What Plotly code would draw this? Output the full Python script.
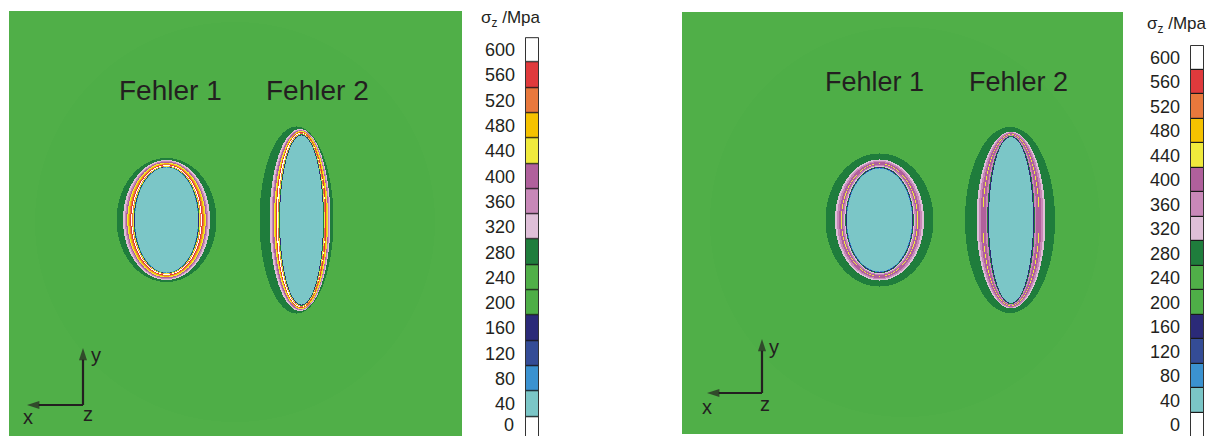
import numpy as np
import plotly.graph_objects as go

# ---------------- data ----------------
levels = [0, 40, 80, 120, 160, 200, 240, 280, 320, 360, 400, 440, 480, 520, 560, 600]
level_colors = ["#FFFFFF", "#7BC6C7", "#3B92D0", "#344C96", "#2B2A78", "#4EAE47", "#50AF48",
                "#1F7D3C", "#DFBFD8", "#C888B8", "#B0609C", "#F0EA3C", "#F5C200", "#E8783C",
                "#E03A3C", "#FFFFFF"]
tick_labels = [str(v) for v in levels]

# Panel 1 (left) : defect rings, outer -> inner (pixel units of the picture)
f1L_cx = 166.5; f1L_cy = 220
f1L_levels = [280, 320, 360, 400, 440, 480, 520, 560, 600, 520, 440, 280, 160, 80, 40]
f1L_a = [50, 43.5, 41.5, 40.3, 39.2, 38.2, 37.2, 36.2, 35.2, 34.3, 33.6, 32.9, 32.3, 31.9, 31.5]
f1L_b = [62, 60, 59, 58.2, 57.4, 56.6, 56, 55.4, 54.8, 54.2, 53.7, 53.3, 53, 52.8, 52.5]

f2L_cx = [296.5, 300, 300.5, 300.5, 301, 301, 301, 301, 301.5, 301.5, 301.5, 301.5, 301.5]
f2L_cy = 220
f2L_levels = [280, 320, 360, 400, 440, 480, 560, 600, 520, 440, 280, 160, 40]
f2L_a = [37, 30.5, 29, 28, 27, 26, 25.2, 24.4, 23.7, 23.1, 22.5, 22, 21.5]
f2L_b = [93.5, 91, 90.2, 89.6, 89, 88.4, 87.8, 87.3, 86.7, 86.1, 85.6, 85, 84.5]

# Panel 2 (right)
f1R_cx = 879.5; f1R_cy = 220
f1R_levels = [280, 320, 360, 400, 440, 400, 360, 320, 280, 160, 80, 40]
f1R_a = [54, 44.5, 42.5, 40.5, 38.5, 37.8, 36.5, 35.2, 34.2, 33.6, 33, 32.5]
f1R_b = [66.5, 60.5, 59.2, 58, 56.5, 56, 55, 54, 53.2, 52.6, 52, 51.5]

f2R_cx = [1010, 1011, 1011, 1011, 1011, 1011, 1011, 1011, 1011, 1011]
f2R_cy = 220
f2R_levels = [280, 320, 360, 400, 440, 400, 360, 280, 160, 40]
f2R_a = [45, 34.5, 32.5, 30.5, 28.5, 27.8, 25.5, 23.8, 23, 22]
f2R_b = [93, 88.5, 87.6, 86.8, 86, 85.6, 84.8, 84, 83.5, 83]

background_level = 240
halo_level = 200

FONT = "Liberation Sans, Arial, Helvetica, sans-serif"
TXT = "#231F20"

# ------------- build fields -------------
def field(x0, x1, y0, y1, defects, halo_center, halo_r):
    xs = np.arange(x0 + 0.5, x1, 1.0)
    ys = np.arange(y0 + 0.5, y1, 1.0)
    X, Y = np.meshgrid(xs, ys)
    z = np.full(X.shape, background_level, dtype=np.int16)
    hx, hy = halo_center
    z[(X - hx) ** 2 + (Y - hy) ** 2 <= halo_r ** 2] = halo_level
    for cxs, cy, lv, aa, bb in defects:
        if np.isscalar(cxs):
            cxs = [cxs] * len(lv)
        for cx, l, a, b in zip(cxs, lv, aa, bb):
            m = ((X - cx) / a) ** 2 + ((Y - cy) / b) ** 2 <= 1.0
            z[m] = l
    return xs, ys, z

colorscale = []
n = len(levels)
for i, c in enumerate(level_colors):
    colorscale.append([i / n, c])
    colorscale.append([(i + 1) / n, c])

W, H = 1218, 436

panels = [
    dict(x0=9, x1=462, y0=11, y1=436,
         defects=[(f1L_cx, f1L_cy, f1L_levels, f1L_a, f1L_b),
                  (f2L_cx, f2L_cy, f2L_levels, f2L_a, f2L_b)],
         halo=((235, 222), 200)),
    dict(x0=682, x1=1123, y0=12, y1=434,
         defects=[(f1R_cx, f1R_cy, f1R_levels, f1R_a, f1R_b),
                  (f2R_cx, f2R_cy, f2R_levels, f2R_a, f2R_b)],
         halo=((905, 222), 195)),
]

fig = go.Figure()
layout = dict(width=W, height=H, margin=dict(l=0, r=0, t=0, b=0),
              paper_bgcolor="white", plot_bgcolor="white", showlegend=False)

shapes = []
annotations = []

for i, p in enumerate(panels):
    xs, ys, z = field(p["x0"], p["x1"], p["y0"], p["y1"], p["defects"], *p["halo"])
    xa = "x" if i == 0 else "x2"
    ya = "y" if i == 0 else "y2"
    fig.add_trace(go.Heatmap(z=z.tolist(), x0=float(xs[0]), dx=1.0, y0=float(ys[0]), dy=1.0,
                             zmin=-20, zmax=620, colorscale=colorscale, showscale=False,
                             hoverinfo="skip", xaxis=xa, yaxis=ya))
    key = "" if i == 0 else "2"
    layout["xaxis" + key] = dict(domain=[p["x0"] / W, p["x1"] / W], range=[p["x0"], p["x1"]],
                                 visible=False, anchor=ya)
    layout["yaxis" + key] = dict(domain=[(H - p["y1"]) / H, (H - p["y0"]) / H],
                                 range=[p["y1"], p["y0"]], visible=False, anchor=xa)

# ------------- colour bars -------------
# the left bar runs past the bottom edge, so its lowest label is placed as a text bottom-anchored
cbars = [dict(x0=525, x1=539, top=37.2, seg=25.3, bottom=436, title_x=511, title_y=19, edge_label=True),
         dict(x0=1190, x1=1204, top=45, seg=24.5, bottom=434, title_x=1177, title_y=25, edge_label=False)]
for j, cb in enumerate(cbars):
    k = 3 + j
    xa, ya = "x%d" % k, "y%d" % k
    fig.add_trace(go.Heatmap(z=[[v] for v in levels], y=levels, x=[0], zmin=-20, zmax=620,
                             colorscale=colorscale, showscale=False, ygap=1.2,
                             hoverinfo="skip", xaxis=xa, yaxis=ya))
    top_val = 620
    bot_val = 620 - (cb["bottom"] - cb["top"]) / cb["seg"] * 40
    tv = levels[1:] if cb["edge_label"] else levels
    tt = tick_labels[1:] if cb["edge_label"] else tick_labels
    layout["xaxis%d" % k] = dict(domain=[cb["x0"] / W, cb["x1"] / W], range=[-0.5, 0.5],
                                 visible=False, anchor=ya)
    layout["yaxis%d" % k] = dict(domain=[(H - cb["bottom"]) / H, (H - cb["top"]) / H],
                                 range=[bot_val, top_val], anchor=xa, side="left",
                                 tickvals=tv, ticktext=tt, ticks="",
                                 showgrid=False, zeroline=False, showline=False,
                                 ticklabelstandoff=9,
                                 tickfont=dict(family=FONT, size=18, color=TXT))
    if cb["edge_label"]:
        annotations.append(dict(text=tick_labels[0], x=(cb["x0"] - 10) / W, y=0,
                                xref="paper", yref="paper", showarrow=False,
                                xanchor="right", yanchor="bottom", borderpad=0,
                                font=dict(family=FONT, size=18, color=TXT)))
    shapes.append(dict(type="rect", xref=xa, yref=ya, x0=-0.5, x1=0.5, y0=max(bot_val, -20), y1=620,
                       fillcolor="#1a1a1a", line=dict(width=0), layer="below"))
    shapes.append(dict(type="rect", xref="paper", yref="paper",
                       x0=(cb["x0"] + 0.5) / W, x1=(cb["x1"] - 0.5) / W,
                       y0=(H - min(cb["top"] + 16 * cb["seg"], H + 2)) / H, y1=(H - cb["top"] - 0.5) / H,
                       fillcolor="rgba(0,0,0,0)", line=dict(color="#333333", width=1), layer="above"))
    annotations.append(dict(text="σ<sub>z</sub> /Mpa", x=cb["title_x"] / W, y=1 - cb["title_y"] / H,
                            xref="paper", yref="paper", showarrow=False,
                            xanchor="center", yanchor="middle",
                            font=dict(family=FONT, size=17, color=TXT)))

# ------------- labels & triads -------------
labels = [("Fehler 1", 170, 90, 28, "x", "y"), ("Fehler 2", 317, 90, 28, "x", "y"),
          ("Fehler 1", 874, 82, 27, "x2", "y2"), ("Fehler 2", 1018, 82, 27, "x2", "y2")]
for t, x, y, s, xr, yr in labels:
    annotations.append(dict(text=t, x=x, y=y, xref=xr, yref=yr, showarrow=False,
                            font=dict(family=FONT, size=s, color=TXT)))

triads = [dict(o=(83, 405), yh=(83, 348), xh=(27, 405), ly=(96, 355), lx=(28, 417), lz=(88, 414), xr="x", yr="y"),
          dict(o=(762, 393), yh=(762, 339), xh=(707, 393), ly=(774, 347), lx=(707, 407), lz=(765, 404), xr="x2", yr="y2")]
for tr in triads:
    xa, ya = tr["xr"], tr["yr"]
    for head in (tr["yh"], tr["xh"]):
        fig.add_trace(go.Scatter(x=[tr["o"][0], head[0]], y=[tr["o"][1], head[1]],
                                 mode="lines+markers", xaxis=xa, yaxis=ya, hoverinfo="skip",
                                 line=dict(color=TXT, width=2.2),
                                 marker=dict(symbol=["circle", "arrow"], size=[0.1, 13],
                                             angleref="previous", color=TXT,
                                             line=dict(width=0))))
    for t, pos in (("y", tr["ly"]), ("x", tr["lx"]), ("z", tr["lz"])):
        annotations.append(dict(text=t, x=pos[0], y=pos[1], xref=xa, yref=ya,
                                showarrow=False, font=dict(family=FONT, size=20, color=TXT)))

layout["shapes"] = shapes
layout["annotations"] = annotations
fig.update_layout(**layout)
fig.write_html("out.html")
